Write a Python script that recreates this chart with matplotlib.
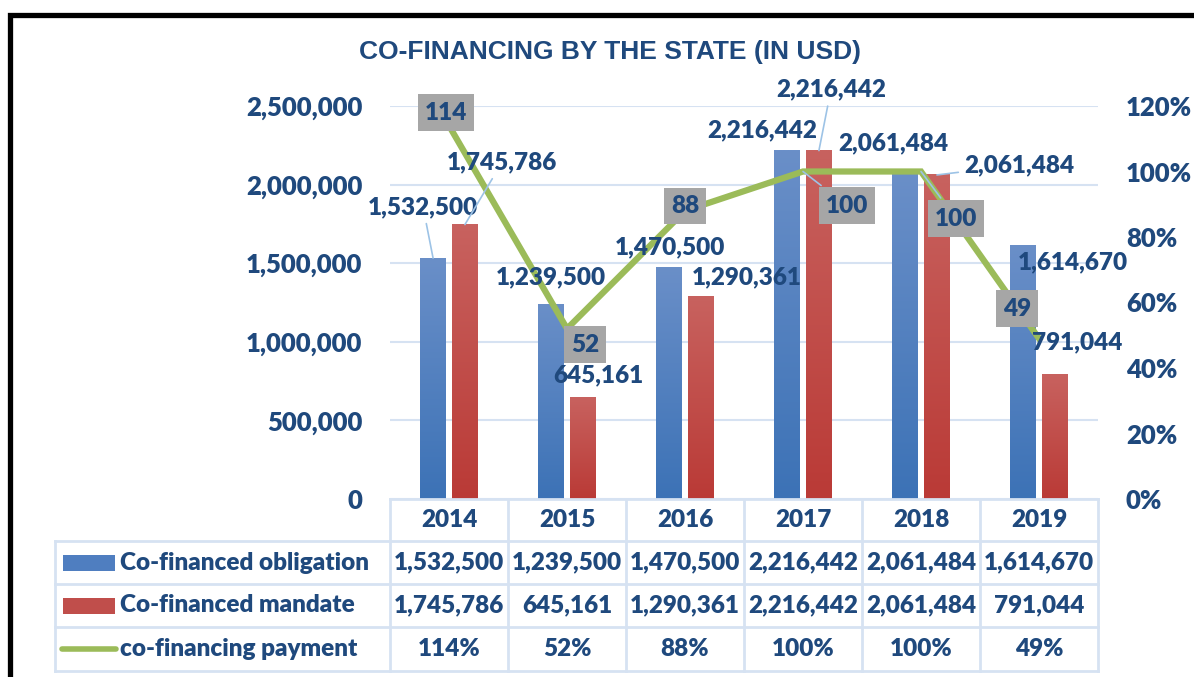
import numpy as np
import matplotlib
matplotlib.use('Agg')
from matplotlib import pyplot as plt
from matplotlib.lines import Line2D
from matplotlib.patches import Rectangle
from matplotlib.colors import LinearSegmentedColormap
from matplotlib.transforms import blended_transform_factory

matplotlib.rcParams.update({'font.family': ['Lato', 'DejaVu Sans'], 'font.weight': 'heavy'})

years = ['2014', '2015', '2016', '2017', '2018', '2019']
obligation = [1532500, 1239500, 1470500, 2216442, 2061484, 1614670]
mandate = [1745786, 645161, 1290361, 2216442, 2061484, 791044]
payment = [114, 52, 88, 100, 100, 49]   # percent
series_names = ['Co-financed obligation', 'Co-financed mandate', 'co-financing payment']

W, H = 1194, 677
NAVY = '#1F497D'
GRID = '#D6E2F2'
LEADER = '#9DC3E6'
GREEN = '#9BBB59'
BOX = '#A6A6A6'

def fx(x):
    return x / W

def fy(y):
    return 1 - y / H

fig = plt.figure(figsize=(W / 100, H / 100), dpi=100)
ax = fig.add_axes([fx(390), fy(499), fx(1098) - fx(390), fy(106) - fy(499)])
ax2 = ax.twinx()

x = np.arange(len(years))
bw = 0.22
off = 0.135

def gradient_bars(bars, top, bottom):
    cmap = LinearSegmentedColormap.from_list('g', [bottom, top])
    grad = np.linspace(0, 1, 256).reshape(-1, 1)
    for b in bars:
        x0, w, h = b.get_x(), b.get_width(), b.get_height()
        ax.imshow(grad, extent=[x0, x0 + w, 0, h], origin='lower',
                  aspect='auto', cmap=cmap, zorder=2)
        b.set_visible(False)

b1 = ax.bar(x - off, obligation, bw)
b2 = ax.bar(x + off, mandate, bw)
gradient_bars(b1, '#6A8FC8', '#3C72B6')
gradient_bars(b2, '#C8625F', '#BA3A36')

ax.set_xlim(-0.5, 5.5)
ax.set_ylim(0, 2500000)
ax.set_yticks(np.arange(0, 2500001, 500000))
ax.set_yticklabels(['{:,}'.format(v) for v in range(0, 2500001, 500000)])
ax.grid(axis='y', color=GRID, lw=1.5)
ax.set_axisbelow(True)
ax.set_xticks([])
ax.tick_params(axis='y', length=0, pad=20, labelsize=18.5, labelcolor=NAVY)
for s in ax.spines.values():
    s.set_visible(False)

ax2.plot(x, np.array(payment) / 100, color=GREEN, lw=4.5, solid_joinstyle='miter', zorder=3)
ax2.set_ylim(0, 1.2)
ax2.set_yticks(np.arange(0, 1.21, 0.2))
ax2.set_yticklabels(['{}%'.format(int(round(v * 100))) for v in np.arange(0, 1.21, 0.2)])
ax2.tick_params(axis='y', length=0, pad=20, labelsize=18.5, labelcolor=NAVY)
for s in ax2.spines.values():
    s.set_visible(False)

lbl = dict(fontsize=17.5, color=NAVY, ha='center', va='center',
           textcoords='offset pixels', annotation_clip=False, zorder=5)
leader = dict(arrowstyle='-', color=LEADER, lw=1.2, shrinkA=2, shrinkB=0)

# bar data labels: offsets in pixels from bar top
ob_off = [(-10, 51), (0, 27), (1, 21), (-25, 20), (-12, 32), (50, -17)]
ob_lead = [True, False, False, False, False, False]
md_off = [(37, 62), (15, 22), (46, 19), (12, 61), (82, 10), (22, 32)]
md_lead = [True, False, False, True, True, False]
for i in range(len(years)):
    ax2.annotate('{:,}'.format(obligation[i]), xy=(x[i] - off, obligation[i]),
                 xycoords=ax.transData, xytext=ob_off[i],
                 arrowprops=leader if ob_lead[i] else None, **lbl)
    ax2.annotate('{:,}'.format(mandate[i]), xy=(x[i] + off, mandate[i]),
                 xycoords=ax.transData, xytext=md_off[i],
                 arrowprops=leader if md_lead[i] else None, **lbl)

# percent labels in grey boxes
pc_off = [(-3, 13), (18, -16), (0, 5), (44, -34), (35, -47), (-22, 30)]
pc_lead = [False, False, False, True, True, False]
for i in range(len(years)):
    ax2.annotate(str(payment[i]), xy=(x[i], payment[i] / 100), xytext=pc_off[i],
                 bbox=dict(boxstyle='square,pad=0.3', fc=BOX, ec='none'),
                 arrowprops=leader if pc_lead[i] else None, **lbl)

# title
fig.text(fx(610), fy(52), 'CO-FINANCING BY THE STATE (IN USD)', ha='center', va='center',
         fontsize=19, color=NAVY, fontweight='bold',
         family=['Liberation Sans Narrow', 'Liberation Sans'])

# data table under the chart
tr = blended_transform_factory(ax.transData, fig.transFigure)
rows_y = [499, 541, 584, 627, 671]
tbl = dict(color=GRID, lw=2, zorder=1)
fig.add_artist(Line2D([fx(390), fx(1098)], [fy(499)] * 2, **tbl))
for ry in rows_y[1:]:
    fig.add_artist(Line2D([fx(55), fx(1098)], [fy(ry)] * 2, **tbl))
for b in np.arange(-0.5, 6, 1.0):
    ax.add_artist(Line2D([b, b], [fy(499), fy(671)], transform=tr, clip_on=False, **tbl))
fig.add_artist(Line2D([fx(55), fx(55)], [fy(541), fy(671)], **tbl))

row_vals = [years,
            ['{:,}'.format(v) for v in obligation],
            ['{:,}'.format(v) for v in mandate],
            ['{}%'.format(v) for v in payment]]
for r, vals in enumerate(row_vals):
    cy = fy((rows_y[r] + rows_y[r + 1]) / 2)
    for i, v in enumerate(vals):
        ax.text(x[i], cy, v, transform=tr, ha='center', va='center',
                fontsize=17.5, color=NAVY, clip_on=False)

# legend column
for r, name in enumerate(series_names):
    cy = (rows_y[r + 1] + rows_y[r + 2]) / 2
    if r < 2:
        col = ['#4F7EC0', '#C04E4B'][r]
        fig.add_artist(Rectangle((fx(63), fy(cy + 8)), fx(115) - fx(63), fy(cy - 8) - fy(cy + 8),
                                 fc=col, ec='none'))
    else:
        fig.add_artist(Line2D([fx(62), fx(116)], [fy(cy)] * 2, color=GREEN, lw=4,
                              solid_capstyle='round'))
    fig.text(fx(120), fy(cy), name, ha='left', va='center', fontsize=17.5, color=NAVY)

# black frame at top / left
fig.add_artist(Line2D([fx(9.5), fx(9.5), fx(1194)], [fy(677), fy(14.5), fy(14.5)],
                      color='black', lw=3.8, solid_joinstyle='miter'))

fig.savefig('out.png', dpi=100)
